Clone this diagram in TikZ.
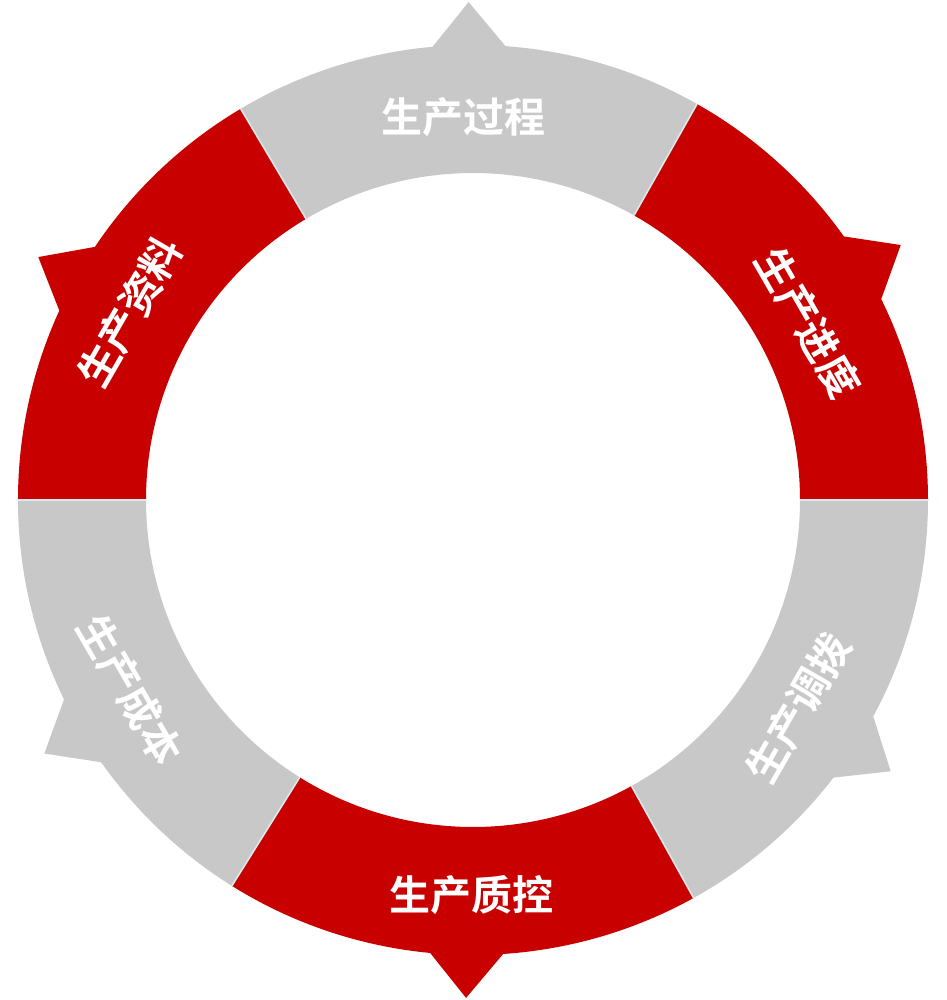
\documentclass[tikz,border=0pt]{standalone}
\usepackage{fontspec}
\newfontfamily\cjk{Noto Sans CJK SC Bold}
\definecolor{segred}{RGB}{200,0,0}
\definecolor{seggray}{RGB}{200,200,200}
\definecolor{sepline}{RGB}{214,236,236}
\begin{document}
\begin{tikzpicture}[x=1pt,y=1pt,
  seglabel/.style={text=white, font=\cjk\fontsize{41}{41}\selectfont, inner sep=0pt},
  sepstroke/.style={draw=sepline, line width=1.6pt}]
\useasboundingbox[fill=white] (-473,-500) rectangle (473,500);
\def\ro{455}\def\ri{327}\def\rt{498}\def\hw{4.6}
\foreach \a/\b/\p/\c in {60.5/120.7/90.5/seggray, 120.7/180/150.8/segred, 180/238/210.6/seggray, 238/299/269.2/segred, 299/360/327/seggray, 0/60.5/30.8/segred}{
  \fill[\c] (\a:\ri pt) -- (\a:\ro pt) arc[start angle=\a, end angle=\p-\hw, radius=\ro pt]
    -- (\p:\rt pt) -- (\p+\hw:\ro pt) arc[start angle=\p+\hw, end angle=\b, radius=\ro pt]
    -- (\b:\ri pt) arc[start angle=\b, end angle=\a, radius=\ri pt] -- cycle;
}
\foreach \a in {60.5,120.7,180,238,299,360}
  \draw[sepstroke] (\a:\ri pt) -- (\a:\ro pt);
\node[seglabel] (lbtop) at (91.4:383pt) {生产过程};
\node[seglabel, rotate=60] (lbl1) at (151.3:391pt) {生产资料};
\node[seglabel, rotate=-60] (lbl2) at (-151:392pt) {生产成本};
\node[seglabel] (lbbot) at (-90.2:395pt) {生产质控};
\node[seglabel, rotate=60] (lbr2) at (-32.6:386pt) {生产调拨};
\node[seglabel, rotate=-60] (lbr1) at (27.8:379pt) {生产进度};
\end{tikzpicture}
\end{document}
